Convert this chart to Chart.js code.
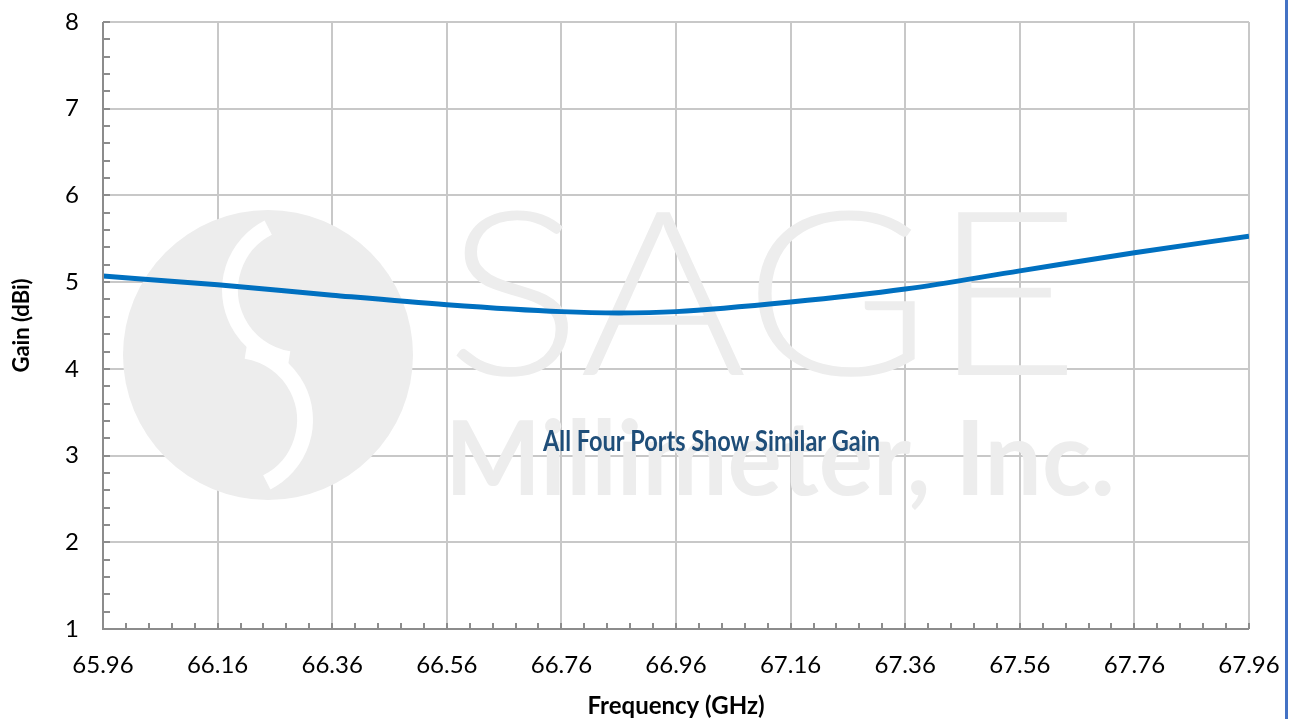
<!DOCTYPE html>
<html><head><meta charset="utf-8">
<script src="https://cdn.jsdelivr.net/npm/chart.js@4.4.1/dist/chart.umd.min.js"></script>
<style>
html,body{margin:0;padding:0;background:#fff;}
#wrap{position:relative;width:1289px;height:719px;}
#edge{position:absolute;left:1285px;top:0;width:3px;height:719px;background:#4472C4;}
</style></head>
<body><div id="wrap"><canvas id="c" width="1289" height="719"></canvas><div id="edge"></div></div>
<script>
const freqGHz = [65.96, 66.16, 66.36, 66.56, 66.76, 66.86, 66.96, 67.16, 67.36, 67.56, 67.76, 67.96];
const gainDBi = [5.07, 4.97, 4.85, 4.74, 4.66, 4.645, 4.66, 4.77, 4.92, 5.13, 5.34, 5.53];
const xTickValues = [65.96, 66.16, 66.36, 66.56, 66.76, 66.96, 67.16, 67.36, 67.56, 67.76, 67.96];
const yTickValues = [1, 2, 3, 4, 5, 6, 7, 8];
const annotationText = "All Four Ports Show Similar Gain";
const watermarkTop = "SAGE";
const watermarkBottom = "Millimeter, Inc.";

const watermark = {
  id: 'watermark',
  beforeDatasetsDraw(chart) {
    const c = chart.ctx;
    c.save();
    c.fillStyle = '#ededed';
    c.beginPath(); c.arc(268, 355, 145, 0, Math.PI*2); c.fill();
    c.strokeStyle = '#ffffff'; c.lineWidth = 16;
    c.beginPath();
    c.arc(300, 290, 70, Math.PI*1.35, Math.PI*0.55, true);
    c.stroke();
    c.beginPath();
    c.arc(235, 420, 70, Math.PI*0.35, Math.PI*1.55, true);
    c.stroke();
    c.font = '300 230px Lato';
    c.textBaseline = 'alphabetic';
    let w = c.measureText(watermarkTop).width;
    c.save(); c.translate(445, 375); c.scale(635 / w, 1); c.fillText(watermarkTop, 0, 0); c.restore();
    c.font = 'bold 104px Lato';
    w = c.measureText(watermarkBottom).width;
    c.save(); c.translate(445, 495); c.scale(670 / w, 1); c.fillText(watermarkBottom, 0, 0); c.restore();
    c.restore();
  },
  afterDatasetsDraw(chart) {
    const c = chart.ctx;
    c.save();
    c.fillStyle = '#1F4E79';
    c.font = 'bold 29px Lato';
    c.textBaseline = 'alphabetic';
    const w = c.measureText(annotationText).width;
    c.translate(543, 451); c.scale(337 / w, 1); c.fillText(annotationText, 0, 0);
    c.restore();
  },
  afterDraw(chart) {
    const c = chart.ctx, xs = chart.scales.x, ys = chart.scales.y, a = chart.chartArea;
    c.save();
    c.strokeStyle = '#8c8c8c'; c.lineWidth = 2;
    for (let i = 0; i <= 50; i++) {
      const v = xTickValues[0] + i * 0.04;
      const px = Math.round(xs.getPixelForValue(v));
      c.beginPath(); c.moveTo(px, a.bottom); c.lineTo(px, a.bottom - 6); c.stroke();
    }
    for (let i = 0; i <= 35; i++) {
      const v = 1 + i * 0.2;
      const py = Math.round(ys.getPixelForValue(v));
      c.beginPath(); c.moveTo(a.left, py); c.lineTo(a.left + 7, py); c.stroke();
    }
    c.beginPath(); c.moveTo(a.left, a.top); c.lineTo(a.left, a.bottom); c.lineTo(a.right, a.bottom); c.stroke();
    c.restore();
  }
};

new Chart(document.getElementById('c'), {
  type: 'line',
  data: { datasets: [{
    data: freqGHz.map((f, i) => ({x: f, y: gainDBi[i]})),
    borderColor: '#0070C0', borderWidth: 5, pointRadius: 0,
    cubicInterpolationMode: 'monotone', fill: false
  }]},
  options: {
    responsive: false, animation: false,
    layout: { padding: { top: 22, right: 40, left: 0, bottom: 0 } },
    plugins: { legend: { display: false }, tooltip: { enabled: false } },
    scales: {
      x: {
        type: 'linear', min: 65.96, max: 67.96,
        afterBuildTicks: s => { s.ticks = xTickValues.map(v => ({value: v})); },
        afterFit: s => { s.height = 90; s.paddingLeft = 0; s.paddingRight = 0; },
        grid: { color: '#c8c8c8', lineWidth: 2, drawTicks: false },
        border: { display: false },
        ticks: { padding: 22, color: '#000', font: { family: 'Lato', size: 24 },
          callback: v => Number(v).toFixed(2), maxRotation: 0, autoSkip: false },
        title: { display: true, text: 'Frequency (GHz)', color: '#000',
          font: { family: 'Lato', size: 24, weight: 'bold' }, padding: { top: 12, bottom: -2 } }
      },
      y: {
        min: 1, max: 8,
        afterBuildTicks: s => { s.ticks = yTickValues.map(v => ({value: v})); },
        afterFit: s => { s.width = 103; s.paddingTop = 0; s.paddingBottom = 0; },
        grid: { color: '#c8c8c8', lineWidth: 2, drawTicks: false },
        border: { display: false },
        ticks: { padding: 24, color: '#000', font: { family: 'Lato', size: 24 } },
        title: { display: true, text: 'Gain (dBi)', color: '#000',
          font: { family: 'Lato', size: 22, weight: 'bold' }, padding: { top: 9, bottom: 0 } }
      }
    }
  },
  plugins: [watermark]
});
</script></body></html>
